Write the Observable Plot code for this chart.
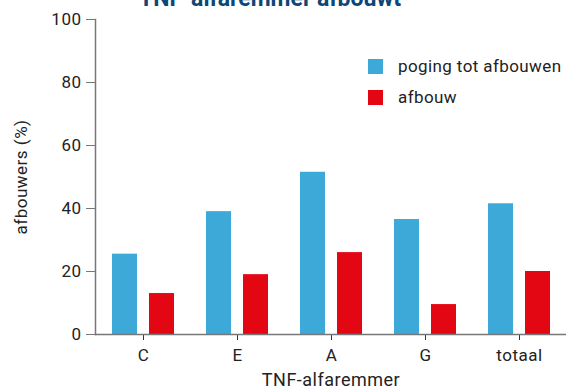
<!DOCTYPE html>
<html>
<head>
<meta charset="utf-8">
<script src="https://cdn.jsdelivr.net/npm/d3@7"></script>
<script src="https://cdn.jsdelivr.net/npm/@observablehq/plot@0.6"></script>
<style>
  html, body { margin: 0; padding: 0; background: #fff; }
  #wrap { position: relative; width: 566px; height: 390px; overflow: hidden; font-family: Roboto, "DejaVu Sans", sans-serif; }
  #title { position: absolute; left: 0; width: 540px; top: -15px; text-align: center; font-size: 23px; font-weight: bold; color: #0e4677; white-space: nowrap; }
  #legend { position: absolute; left: 368px; top: 57px; font-size: 17px; letter-spacing: 0.4px; color: #222; }
  #legend .item { display: flex; align-items: center; height: 18px; margin-bottom: 13px; white-space: nowrap; }
  #legend .sw { width: 15px; height: 15px; margin-right: 15px; flex: none; }
  svg text { letter-spacing: 0.5px; }
</style>
</head>
<body>
<div id="wrap">
  <div id="chart"></div>
  <div id="title"></div>
  <div id="legend"></div>
</div>
<script>
const title = "TNF-alfaremmer afbouwt";
const categories = ["C", "E", "A", "G", "totaal"];
const seriesNames = ["poging tot afbouwen", "afbouw"];
const poging = [25.5, 39, 51.5, 36.5, 41.5];
const afbouw = [13, 19, 26, 9.5, 20];
const yTicks = [0, 20, 40, 60, 80, 100];
const colors = ["#3ca9d8", "#e30613"];
const xLabel = "TNF-alfaremmer";
const yLabel = "afbouwers (%)";

const rows = categories.map((c, i) => ({cat: c, poging: poging[i], afbouw: afbouw[i]}));

const chart = Plot.plot({
  width: 566,
  height: 390,
  marginLeft: 95,
  marginRight: 0,
  marginTop: 19,
  marginBottom: 56,
  style: {fontFamily: "Roboto, 'DejaVu Sans', sans-serif", fontSize: "17px", color: "#222", background: "transparent"},
  x: {domain: categories, padding: 0},
  y: {domain: [0, 100]},
  marks: [
    Plot.barY(rows, {x: "cat", y: "poging", fill: colors[0], insetLeft: 16, insetRight: 53}),
    Plot.barY(rows, {x: "cat", y: "afbouw", fill: colors[1], insetLeft: 53, insetRight: 16}),
    Plot.axisY({ticks: yTicks, tickSize: 9, tickPadding: 5, stroke: "#777", fill: "#222", label: null}),
    Plot.axisX({tickSize: 6, tickPadding: 8, stroke: "#333", fill: "#222", label: null}),
    Plot.text([yLabel], {frameAnchor: "left", dx: -74, rotate: -90, textAnchor: "middle", fontSize: 17, fill: "#222"}),
    Plot.text([xLabel], {frameAnchor: "bottom", dy: 51, fontSize: 18, fill: "#222"}),
    Plot.frame({anchor: "left", stroke: "#777", strokeWidth: 1.5}),
    Plot.frame({anchor: "bottom", stroke: "#777", strokeWidth: 1.5})
  ]
});
document.getElementById("chart").appendChild(chart);
document.getElementById("title").textContent = title;

const legend = document.getElementById("legend");
seriesNames.forEach((s, i) => {
  const item = document.createElement("div");
  item.className = "item";
  const sw = document.createElement("div");
  sw.className = "sw";
  sw.style.background = colors[i];
  const t = document.createElement("span");
  t.textContent = s;
  item.appendChild(sw);
  item.appendChild(t);
  legend.appendChild(item);
});
</script>
</body>
</html>
